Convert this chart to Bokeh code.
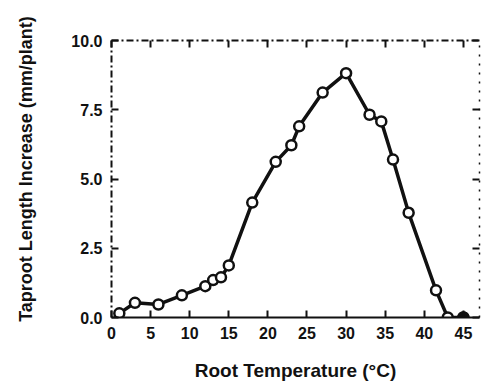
from bokeh.plotting import figure
from bokeh.models import LinearAxis, FixedTicker, Range1d, ColumnDataSource
from bokeh.embed import file_html
from bokeh.resources import INLINE

# Data
temperature = [1, 3, 6, 9, 12, 13, 14, 15, 18, 21, 23, 24, 27, 30, 33, 34.5, 36, 38, 41.5, 43, 45]
taproot_increase = [0.15, 0.53, 0.47, 0.8, 1.13, 1.35, 1.45, 1.88, 4.15, 5.62, 6.22, 6.9, 8.12, 8.82, 7.32, 7.08, 5.7, 3.78, 0.98, 0.0, 0.0]
filled_temp = [45]
filled_val = [0.0]

x_ticks = [0, 5, 10, 15, 20, 25, 30, 35, 40, 45]
y_ticks = [0, 2.5, 5, 7.5, 10]
y_tick_labels = {0: "0.0", 2.5: "2.5", 5: "5.0", 7.5: "7.5", 10: "10.0"}
x_title = "Root Temperature (°C)"
y_title = "\u00a0" * 4 + "Taproot Length Increase (mm/plant)"

FONT = "Liberation Sans"

p = figure(width=492, height=383, output_backend="svg", toolbar_location=None,
           x_range=Range1d(0, 47.06), y_range=Range1d(0, 10),
           min_border_left=111, min_border_right=13, min_border_top=40, min_border_bottom=61,
           x_axis_location=None, y_axis_location=None)
p.outline_line_color = None
p.grid.visible = False
p.background_fill_color = "white"
p.border_fill_color = "white"

def style_axis(ax, labels=True):
    ax.major_tick_out = 0
    ax.major_tick_in = 7
    ax.minor_tick_in = 0
    ax.minor_tick_out = 0
    ax.major_tick_line_width = 2
    ax.major_tick_line_color = "#111111"
    ax.axis_line_color = "#111111"
    ax.axis_line_width = 2
    if labels:
        ax.major_label_text_font = FONT
        ax.major_label_text_font_style = "bold"
        ax.major_label_text_font_size = "16px"
        ax.major_label_text_color = "#111111"
        ax.major_label_standoff = 9
    else:
        ax.major_label_overrides = {t: "" for t in ax.ticker.ticks}
        ax.major_label_standoff = 0

xb = LinearAxis(ticker=FixedTicker(ticks=x_ticks), axis_label=x_title)
style_axis(xb)
xb.axis_label_text_font = FONT
xb.axis_label_text_font_style = "bold"
xb.axis_label_text_font_size = "19px"
xb.axis_label_text_color = "#111111"
xb.axis_label_standoff = 18
p.add_layout(xb, "below")

yl = LinearAxis(ticker=FixedTicker(ticks=y_ticks), axis_label=y_title)
style_axis(yl)
yl.major_label_overrides = y_tick_labels
yl.axis_line_dash = "7 3 2 3"
yl.axis_label_text_font = FONT
yl.axis_label_text_font_style = "bold"
yl.axis_label_text_font_size = "18px"
yl.axis_label_text_color = "#111111"
yl.axis_label_standoff = 32
p.add_layout(yl, "left")

xt = LinearAxis(ticker=FixedTicker(ticks=x_ticks))
style_axis(xt, labels=False)
xt.axis_line_dash = "7 3 2 3"
p.add_layout(xt, "above")

yr = LinearAxis(ticker=FixedTicker(ticks=y_ticks))
style_axis(yr, labels=False)
yr.axis_line_dash = "2 7"
yr.axis_line_width = 1.5
p.add_layout(yr, "right")

src = ColumnDataSource(dict(x=temperature, y=taproot_increase))
p.line("x", "y", source=src, line_color="#111111", line_width=3.5)
p.scatter("x", "y", source=src, size=10, fill_color="white", line_color="#111111", line_width=2.5)
p.scatter(filled_temp, filled_val, size=10, fill_color="#111111", line_color="#111111", line_width=2.5)

open("out.html", "w").write(file_html(p, INLINE))
